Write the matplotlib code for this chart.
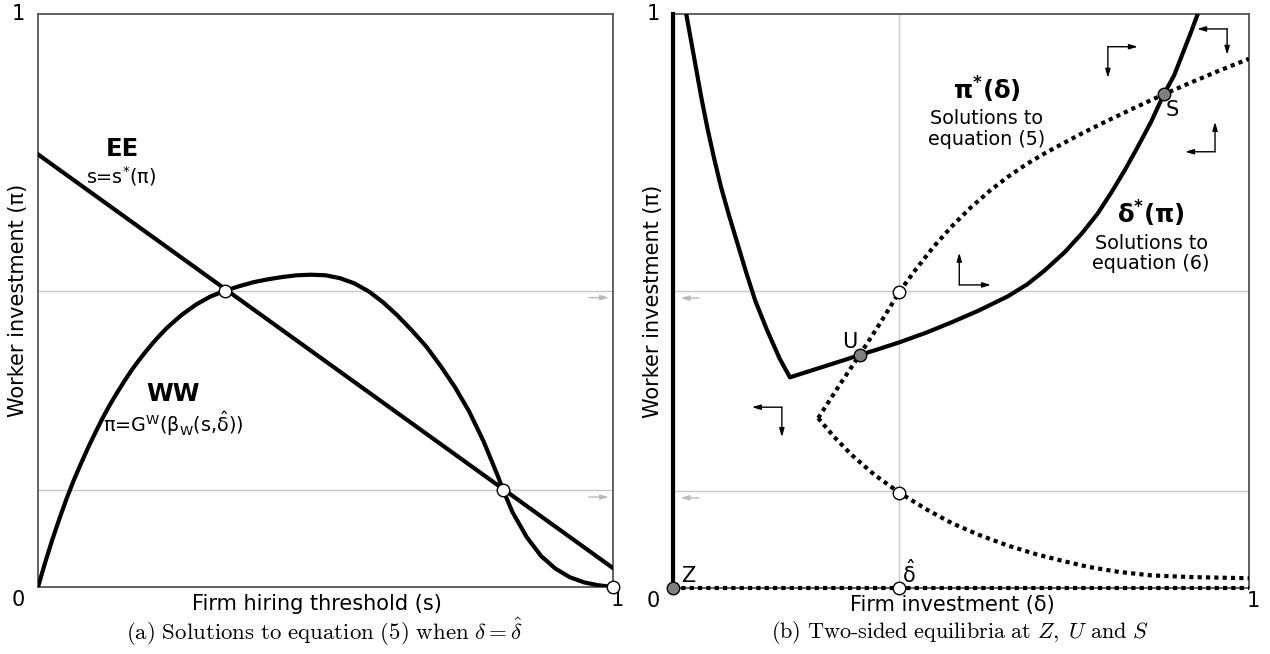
import matplotlib
matplotlib.use("Agg")
import matplotlib.pyplot as plt

# ---- panel (a) data: firm hiring threshold s vs worker investment pi ----
ee_s = [0.0, 1.0]
ee_pi = [0.755, 0.033]

ww_s = [0.0, 0.0125, 0.025, 0.0375, 0.05, 0.0625, 0.075, 0.0875, 0.1, 0.1125,
        0.125, 0.1375, 0.15, 0.1625, 0.175, 0.1875, 0.2, 0.2125, 0.225, 0.25,
        0.275, 0.3, 0.325, 0.35, 0.375, 0.4, 0.425, 0.45, 0.475, 0.5,
        0.525, 0.55, 0.575, 0.6, 0.625, 0.65, 0.675, 0.7, 0.725, 0.75,
        0.775, 0.8, 0.809, 0.825, 0.85, 0.875, 0.9, 0.925, 0.95, 0.975, 1.0]
ww_pi = [0.0, 0.043, 0.083, 0.120, 0.155, 0.187, 0.216, 0.244, 0.270, 0.295,
         0.318, 0.339, 0.359, 0.378, 0.395, 0.411, 0.426, 0.440, 0.453, 0.475,
         0.493, 0.507, 0.517, 0.525, 0.532, 0.537, 0.541, 0.544, 0.545, 0.544,
         0.539, 0.530, 0.516, 0.497, 0.474, 0.448, 0.420, 0.386, 0.349, 0.306,
         0.254, 0.193, 0.169, 0.131, 0.087, 0.054, 0.032, 0.017, 0.008, 0.003, 0.0]

a_open_s = [0.325, 0.809, 1.0]
a_open_pi = [0.517, 0.169, 0.0]
pi_levels = [0.517, 0.169]

# ---- panel (b) data: firm investment delta vs worker investment pi ----
dstar_d = [0.023, 0.032, 0.041, 0.050, 0.060, 0.071, 0.083, 0.097, 0.112, 0.127,
           0.143, 0.163, 0.185, 0.203,
           0.25, 0.3, 0.324, 0.35, 0.393, 0.44, 0.484, 0.53, 0.581, 0.615,
           0.645, 0.68, 0.71, 0.737, 0.761, 0.785, 0.806, 0.83, 0.852, 0.87,
           0.884, 0.898, 0.911]
dstar_pi = [1.0, 0.95, 0.9, 0.85, 0.8, 0.75, 0.7, 0.65, 0.6, 0.55,
            0.5, 0.45, 0.4, 0.367,
            0.382, 0.398, 0.406, 0.414, 0.428, 0.445, 0.463, 0.483, 0.508, 0.529,
            0.553, 0.585, 0.618, 0.652, 0.689, 0.729, 0.767, 0.812, 0.860, 0.893,
            0.929, 0.965, 1.0]

pstar_up_d = [0.252, 0.29, 0.324, 0.36, 0.393, 0.42, 0.452, 0.485, 0.516, 0.55,
              0.581, 0.613, 0.645, 0.68, 0.71, 0.75, 0.8, 0.852, 0.9, 0.95, 1.0]
pstar_up_pi = [0.296, 0.355, 0.406, 0.462, 0.516, 0.553, 0.594, 0.631, 0.662, 0.692,
               0.716, 0.738, 0.757, 0.776, 0.792, 0.812, 0.836, 0.860, 0.881, 0.902,
               0.922]

pstar_lo_d = [0.252, 0.28, 0.31, 0.35, 0.393, 0.44, 0.484, 0.53, 0.581, 0.63,
              0.677, 0.72, 0.774, 0.83, 0.9, 0.95, 1.0]
pstar_lo_pi = [0.296, 0.263, 0.232, 0.197, 0.166, 0.137, 0.113, 0.093, 0.074, 0.059,
               0.047, 0.037, 0.028, 0.022, 0.019, 0.018, 0.017]

delta_hat = 0.393
b_open_pi = [0.516, 0.166, 0.0]
eq_names = ["Z", "U", "S"]
eq_d = [0.0, 0.324, 0.852]
eq_pi = [0.0, 0.406, 0.860]

# phase arrows: corner, horizontal tip, vertical tip
phase = [((0.755, 0.943), 0.807, 0.889),
         ((0.941, 0.760), 0.889, 0.812),
         ((0.962, 0.974), 0.910, 0.929),
         ((0.497, 0.528), 0.552, 0.584),
         ((0.189, 0.315), 0.137, 0.263)]

FS = 15
SMALL = 13.8
BIG = 17.5
spine_col = "#555555"
grey = "#c8c8c8"

fig = plt.figure(figsize=(12.7, 6.54), dpi=100)
axa = fig.add_axes([38 / 1270, 1 - 587 / 654, 575 / 1270, 573 / 654])
axb = fig.add_axes([673 / 1270, 1 - 588 / 654, 576 / 1270, 574 / 654])

for ax in (axa, axb):
    ax.set_xlim(0, 1)
    ax.set_ylim(0, 1)
    ax.set_xticks([])
    ax.set_yticks([])
    for sp in ax.spines.values():
        sp.set_color(spine_col)
        sp.set_linewidth(1.3)
    for lv in pi_levels:
        ax.axhline(lv, color=grey, lw=1.0, zorder=1)
    ax.text(-0.034, -0.022, "0", transform=ax.transAxes, ha="center", va="center", fontsize=FS)
    ax.text(-0.034, 1.0, "1", transform=ax.transAxes, ha="center", va="center", fontsize=FS)
    ax.text(1.008, -0.022, "1", transform=ax.transAxes, ha="center", va="center", fontsize=FS)
    ax.text(-0.034, 0.5, "Worker investment (π)", transform=ax.transAxes,
            rotation=90, ha="center", va="center", fontsize=FS)

def arrow(ax, start, end, col, lw=1.0):
    ax.annotate("", xy=end, xytext=start,
                arrowprops=dict(arrowstyle="-|>,head_length=0.5,head_width=0.15",
                                color=col, lw=lw, shrinkA=0, shrinkB=0),
                annotation_clip=False)

# ---------------- panel (a) ----------------
axa.plot(ee_s, ee_pi, color="black", lw=3, zorder=3)
axa.plot(ww_s, ww_pi, color="black", lw=3, zorder=3, solid_joinstyle="round")
axa.plot(a_open_s, a_open_pi, "o", ms=9, mfc="white", mec="black", mew=1.0,
         zorder=5, clip_on=False)
for lv in pi_levels:
    arrow(axa, (0.958, lv - 0.012), (0.993, lv - 0.012), "#bbbbbb")

axa.text(0.146, 0.764, "EE", fontsize=BIG, fontweight="bold", ha="center", va="center")
axa.text(0.144, 0.716, r"s=s$^{*}$(π)", fontsize=SMALL, ha="center", va="center",
         math_fontfamily="dejavusans")
axa.text(0.235, 0.336, "WW", fontsize=BIG, fontweight="bold", ha="center", va="center")
axa.text(0.235, 0.286, r"π=G$^{\mathrm{W}}$(β$_{\mathrm{W}}$(s,$\hat{\mathrm{\delta}}$))",
         fontsize=SMALL, ha="center", va="center", math_fontfamily="dejavusans")
axa.text(0.485, -0.03, "Firm hiring threshold (s)", transform=axa.transAxes,
         ha="center", va="center", fontsize=FS)

# ---------------- panel (b) ----------------
axb.axvline(delta_hat, color=grey, lw=1.0, zorder=1)
axb.plot([0, 0], [0, 1], color="black", lw=3, zorder=3, clip_on=False)
axb.plot(dstar_d, dstar_pi, color="black", lw=3, zorder=3, solid_joinstyle="round")
dot = (0, (1, 1))
axb.plot(pstar_up_d, pstar_up_pi, color="black", lw=3, ls=dot, zorder=3)
axb.plot(pstar_lo_d, pstar_lo_pi, color="black", lw=3, ls=dot, zorder=3)
axb.plot([0, 1], [0, 0], color="black", lw=3, ls=dot, zorder=3, clip_on=False)

axb.plot([delta_hat] * 3, b_open_pi, "o", ms=9, mfc="white", mec="black", mew=1.0,
         zorder=5, clip_on=False)
axb.plot(eq_d, eq_pi, "o", ms=9, mfc="#808080", mec="black", mew=1.0,
         zorder=5, clip_on=False)

for lv in pi_levels:
    arrow(axb, (0.045, lv - 0.012), (0.013, lv - 0.012), "#bbbbbb")
for corner, hx, vy in phase:
    arrow(axb, corner, (hx, corner[1]), "black")
    arrow(axb, corner, (corner[0], vy), "black")

axb.text(0.307, 0.429, "U", fontsize=FS, ha="center", va="center")
axb.text(0.867, 0.833, "S", fontsize=FS, ha="center", va="center")
axb.text(0.026, 0.021, "Z", fontsize=FS, ha="center", va="center")
axb.text(0.410, 0.026, r"$\hat{\mathrm{\delta}}$", fontsize=FS, ha="center", va="center",
         math_fontfamily="dejavusans")

axb.text(0.545, 0.868, r"$\mathbf{π^{*}(δ)}$", fontsize=BIG, ha="center", va="center",
         math_fontfamily="dejavusans")
axb.text(0.545, 0.800, "Solutions to\nequation (5)", fontsize=SMALL, ha="center",
         va="center", linespacing=1.1)
axb.text(0.830, 0.652, r"$\mathbf{δ^{*}(π)}$", fontsize=BIG, ha="center", va="center",
         math_fontfamily="dejavusans")
axb.text(0.830, 0.583, "Solutions to\nequation (6)", fontsize=SMALL, ha="center",
         va="center", linespacing=1.1)
axb.text(0.485, -0.03, "Firm investment (δ)", transform=axb.transAxes,
         ha="center", va="center", fontsize=FS)

# captions
fig.text(325 / 1270, 1 - 632 / 654,
         r"$\mathrm{(a)\ Solutions\ to\ equation\ (5)\ when\ }\delta=\hat{\delta}$",
         ha="center", va="center", fontsize=16.5, math_fontfamily="cm")
fig.text(960 / 1270, 1 - 632 / 654,
         r"$\mathrm{(b)\ Two\text{-}sided\ equilibria\ at\ }Z\mathrm{,\ }U\mathrm{\ and\ }S$",
         ha="center", va="center", fontsize=16, math_fontfamily="cm")

fig.savefig("out.png", dpi=100, facecolor="white")
